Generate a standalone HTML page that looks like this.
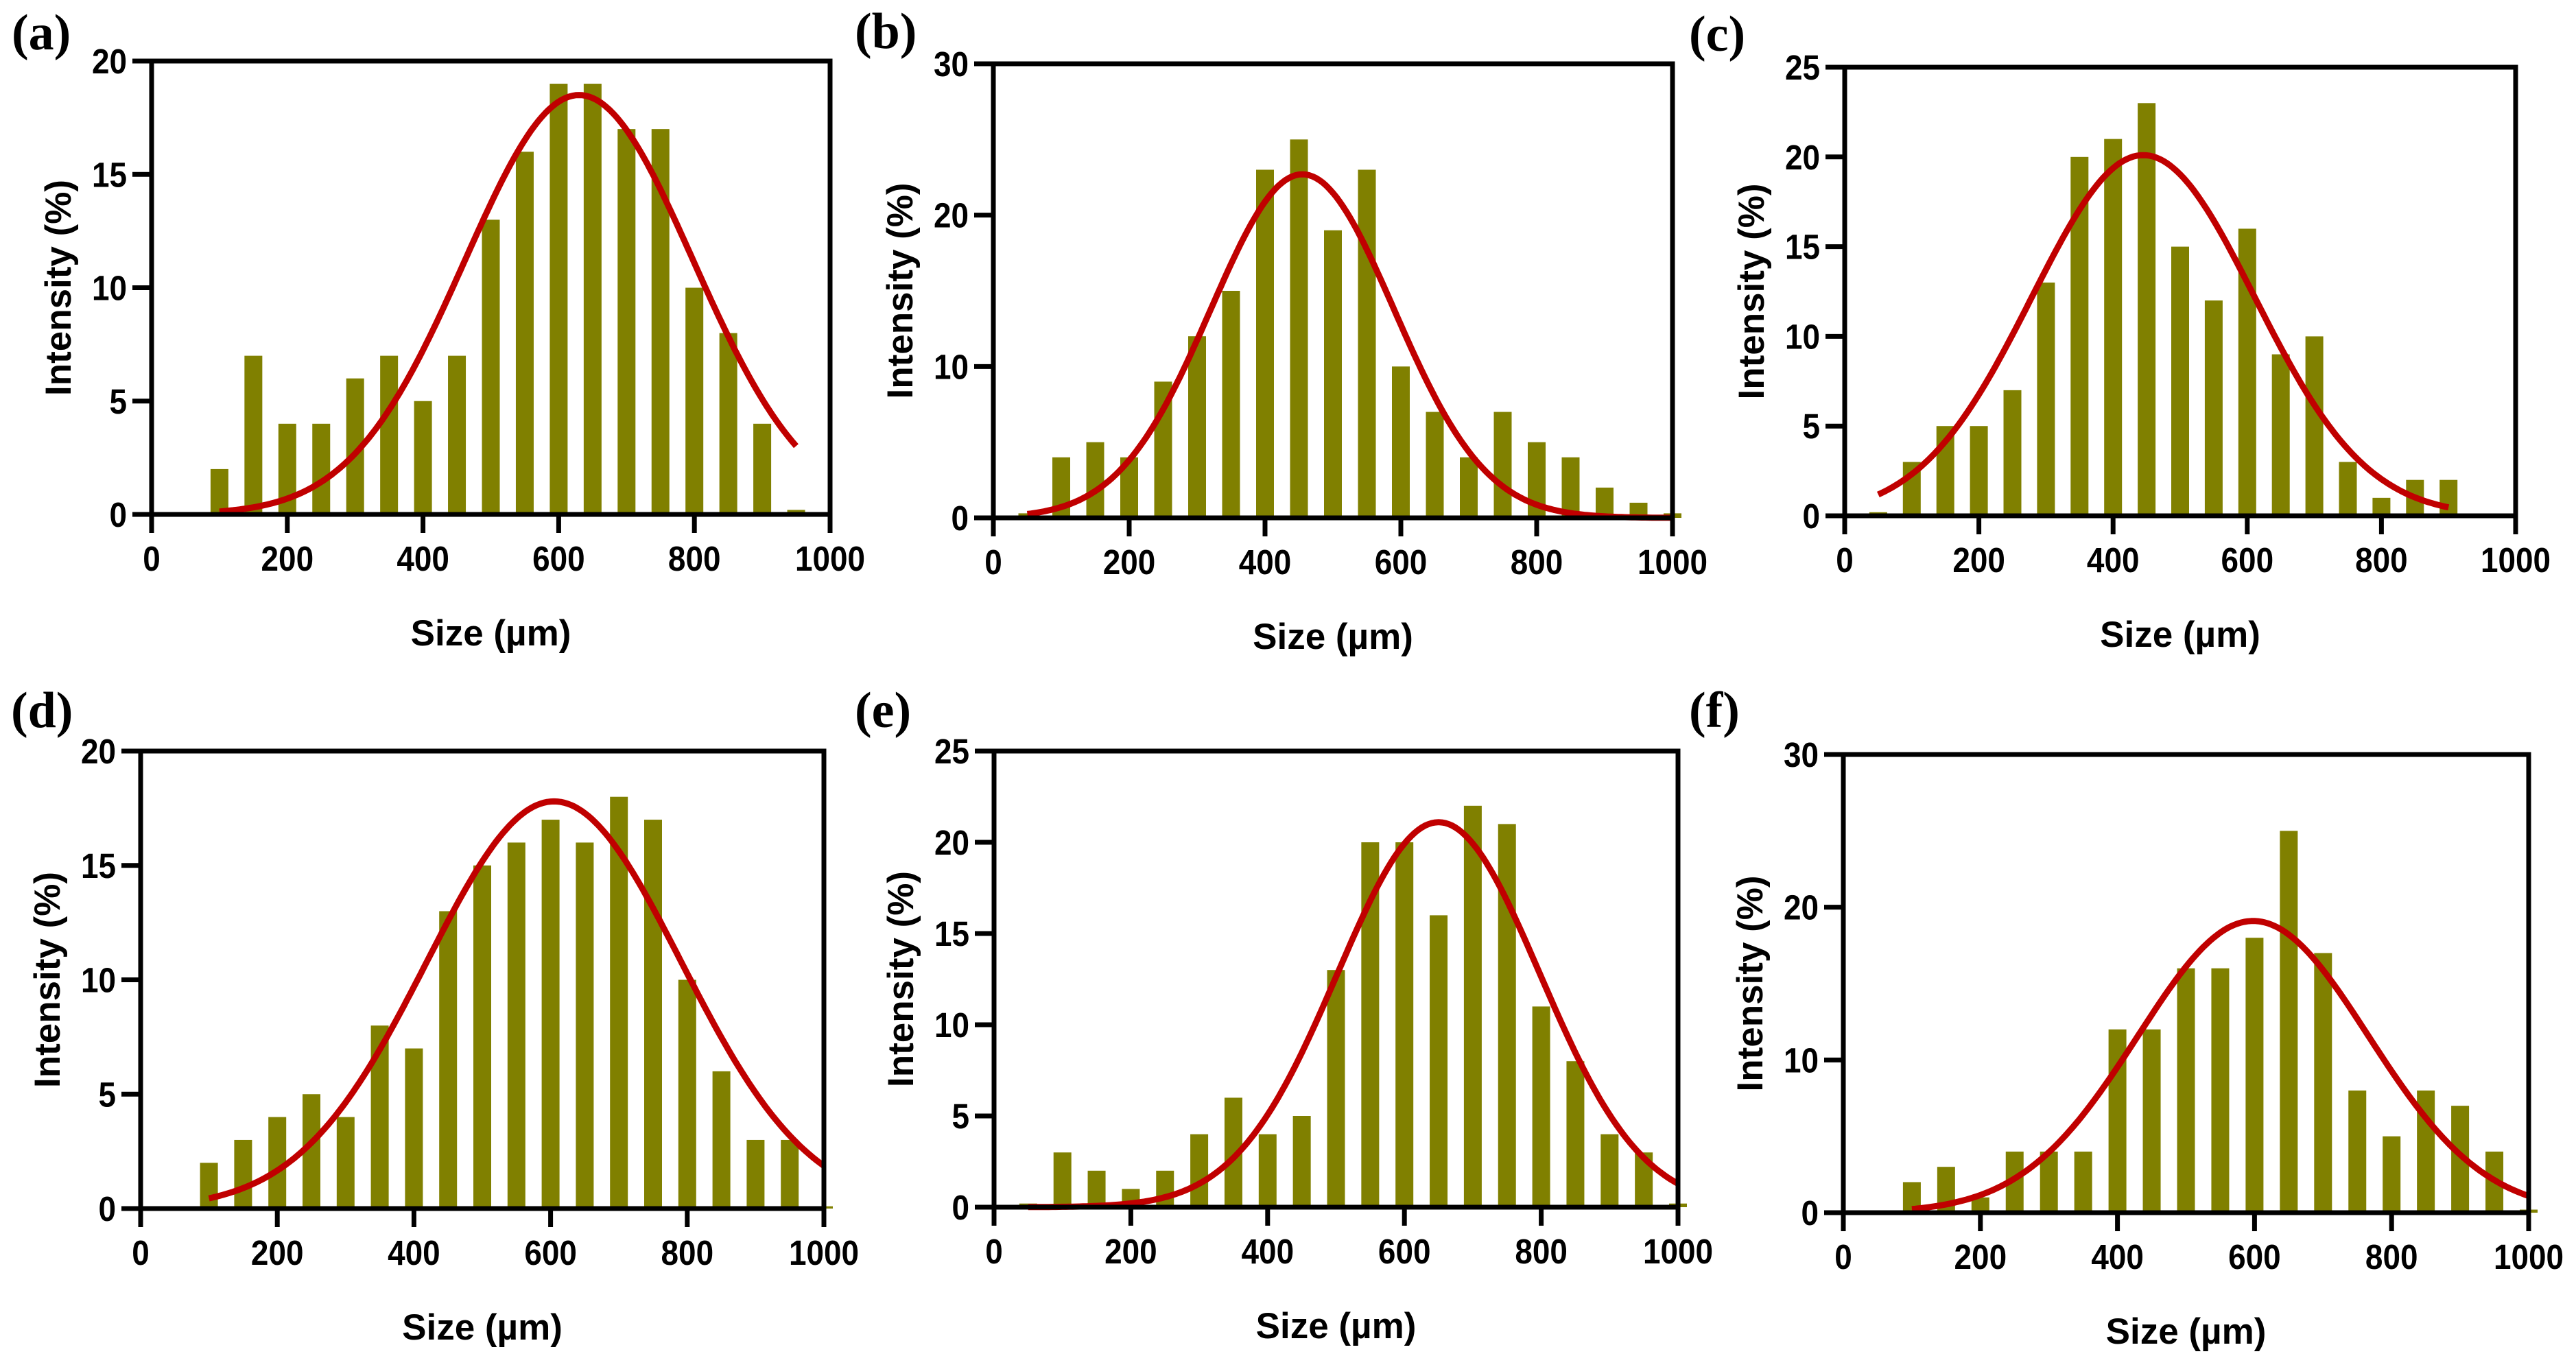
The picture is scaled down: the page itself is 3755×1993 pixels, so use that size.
<!DOCTYPE html>
<html><head><meta charset="utf-8"><style>
html,body{margin:0;padding:0;background:#fff;}
svg{display:block;}
text{font-family:"Liberation Sans",sans-serif;font-weight:bold;fill:#000;}
.pl{font-family:"Liberation Serif",serif;}
</style></head><body>
<svg id="fig" width="3755" height="1993" viewBox="0 0 3755 1993" xmlns="http://www.w3.org/2000/svg"></svg>
<script>
// Bin centres (µm) and intensities (%) per panel
const binsA = [100,150,200,250,300,350,400,450,500,550,600,650,700,750,800,850,900,950];
const valsA = [2,7,4,4,6,7,5,7,13,16,19,19,17,17,10,8,4,0.2];
const binsB = [50,100,150,200,250,300,350,400,450,500,550,600,650,700,750,800,850,900,950,1000];
const valsB = [0.3,4,5,4,9,12,15,23,25,19,23,10,7,4,7,5,4,2,1,0.3];
const binsC = [50,100,150,200,250,300,350,400,450,500,550,600,650,700,750,800,850,900];
const valsC = [0.2,3,5,5,7,13,20,21,23,15,12,16,9,10,3,1,2,2];
const binsD = [100,150,200,250,300,350,400,450,500,550,600,650,700,750,800,850,900,950,1000];
const valsD = [2,3,4,5,4,8,7,13,15,16,17,16,18,17,10,6,3,3,0.1];
const binsE = [50,100,150,200,250,300,350,400,450,500,550,600,650,700,750,800,850,900,950,1000];
const valsE = [0.2,3,2,1,2,4,6,4,5,13,20,20,16,22,21,11,8,4,3,0.2];
const binsF = [100,150,200,250,300,350,400,450,500,550,600,650,700,750,800,850,900,950,1000];
const valsF = [2,3,1,4,4,4,12,12,16,16,18,25,17,8,5,8,7,4,0.2];
// Gaussian fit parameters: amplitude, mean, sigma, start, end
const fitA = [18.5,630,168,100,950];
const fitB = [22.7,455,135,50,1000];
const fitC = [20.1,445,166,50,900];
const fitD = [17.8,605,186,100,1000];
const fitE = [21.1,650,148,50,1000];
const fitF = [19.1,598,168,100,1000];
// Axis tick labels
const xTicks = [0,200,400,600,800,1000];
const yTicksA = [0,5,10,15,20];
const yTicksB = [0,10,20,30];
const yTicksC = [0,5,10,15,20,25];
const yTicksD = [0,5,10,15,20];
const yTicksE = [0,5,10,15,20,25];
const yTicksF = [0,10,20,30];

const panels = [
 {id:'a',bins:binsA,vals:valsA,fit:fitA,yt:yTicksA,x0:221,x1:1210,yT:89,y0:750,lx:17,ly:72},
 {id:'b',bins:binsB,vals:valsB,fit:fitB,yt:yTicksB,x0:1448,x1:2438,yT:93,y0:755,lx:1246,ly:70},
 {id:'c',bins:binsC,vals:valsC,fit:fitC,yt:yTicksC,x0:2689,x1:3667,yT:98,y0:752,lx:2462,ly:74},
 {id:'d',bins:binsD,vals:valsD,fit:fitD,yt:yTicksD,x0:205,x1:1201,yT:1095,y0:1762,lx:16,ly:1060},
 {id:'e',bins:binsE,vals:valsE,fit:fitE,yt:yTicksE,x0:1449,x1:2446,yT:1095,y0:1760,lx:1246,ly:1060},
 {id:'f',bins:binsF,vals:valsF,fit:fitF,yt:yTicksF,x0:2687,x1:3686,yT:1100,y0:1768,lx:2462,ly:1060}
];
const NS='http://www.w3.org/2000/svg';
const svg=document.getElementById('fig');
function mk(tag,attrs,parent){const e=document.createElementNS(NS,tag);for(const k in attrs)e.setAttribute(k,attrs[k]);parent.appendChild(e);return e;}

panels.forEach(p=>{
  const g=mk('g',{},svg);
  
  
  const ymax=p.yt[p.yt.length-1];
  const sx=v=>p.x0+(v/1000)*(p.x1-p.x0);
  const sy=v=>p.y0-(v/ymax)*(p.y0-p.yT);
  const bw=26;
  p.bins.forEach((b,i)=>{
    const h=p.y0-sy(p.vals[i]);
    const r=mk('rect',{x:sx(b)-bw/2,y:sy(p.vals[i]),width:bw,height:h,fill:'#808000'},g);
    
    
  });
  const [A,mu,s,st,en]=p.fit;
  let d='';
  for(let x=st;x<=en;x+=5){const y=A*Math.exp(-((x-mu)*(x-mu))/(2*s*s));d+=(d?'L':'M')+sx(x).toFixed(1)+','+sy(y).toFixed(1);}
  const c=mk('path',{d:d,fill:'none',stroke:'#C00000','stroke-width':9,'stroke-linecap':'butt','stroke-linejoin':'round'},g);
  
  
  const fr=mk('rect',{x:p.x0,y:p.yT,width:p.x1-p.x0,height:p.y0-p.yT,fill:'none',stroke:'#000','stroke-width':7},g);
  
  
  xTicks.forEach(t=>{
    mk('line',{x1:sx(t),x2:sx(t),y1:p.y0,y2:p.y0+27,stroke:'#000','stroke-width':7},g);
    const tx=mk('text',{transform:'translate('+sx(t)+','+(p.y0+82)+') scale(0.9,1)','text-anchor':'middle','font-size':51},g);
    tx.textContent=t;
    
    
  });
  p.yt.forEach(t=>{
    mk('line',{x1:p.x0-28,x2:p.x0,y1:sy(t),y2:sy(t),stroke:'#000','stroke-width':7},g);
    const ty=mk('text',{transform:'translate('+(p.x0-36)+','+(sy(t)+18)+') scale(0.9,1)','text-anchor':'end','font-size':51},g);
    ty.textContent=t;
    
    
  });
  const xt=mk('text',{x:(p.x0+p.x1)/2,y:p.y0+191,'text-anchor':'middle','font-size':53},g);
  xt.textContent='Size (µm)';
  
  
  const ycx=p.x0-137, ycy=(p.yT+p.y0)/2;
  const yt=mk('text',{transform:'translate('+(ycx+19)+','+ycy+') rotate(-90)','text-anchor':'middle','font-size':53},g);
  yt.textContent='Intensity (%)';
  
  
  const lb=mk('text',{x:p.lx,y:p.ly,'font-size':74,'class':'pl'},g);
  lb.textContent='('+p.id+')';
  
  
});
</script>
</body></html>
